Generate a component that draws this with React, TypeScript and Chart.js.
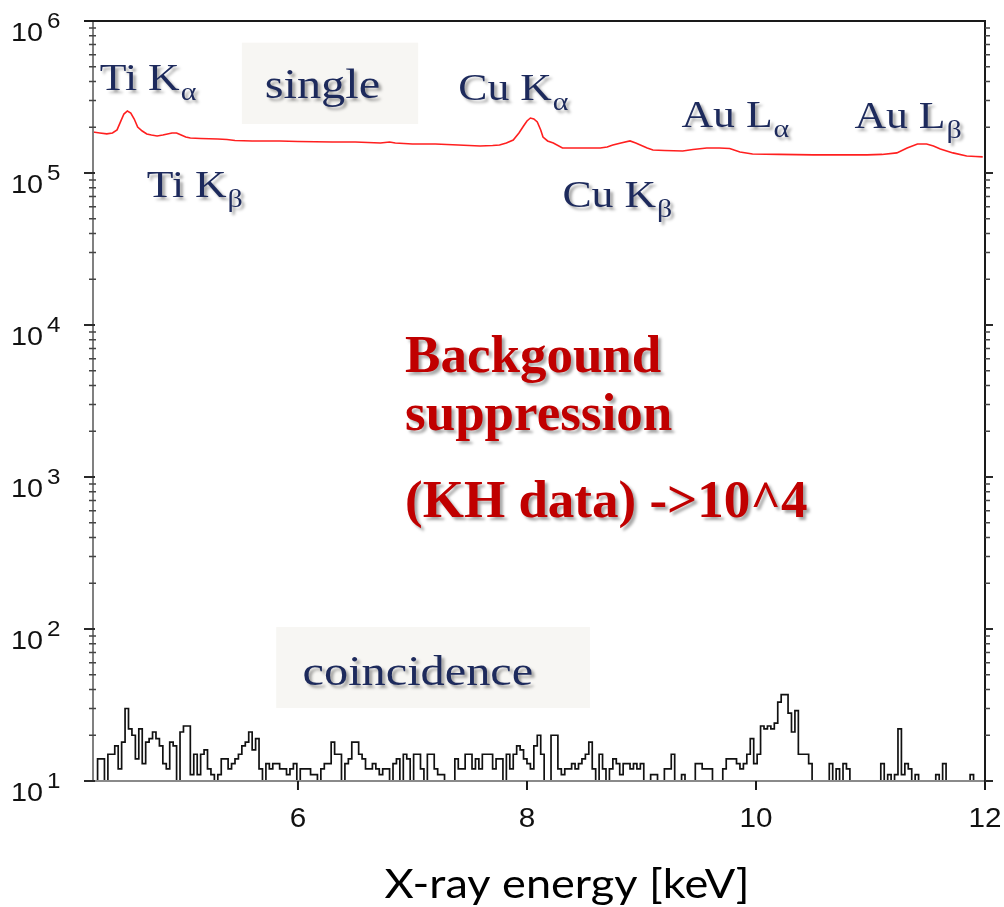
import React, { useEffect, useRef } from "react";
import { Chart, registerables } from "chart.js";

Chart.register(...registerables);

// ---------------- data ----------------
// "single" spectrum (red): energy [keV] and counts
const singleEnergy = [
  4.21, 4.27, 4.33, 4.38, 4.42, 4.45, 4.48, 4.51, 4.54, 4.57, 4.6, 4.64, 4.68, 4.72, 4.77, 4.82, 4.86, 4.9, 4.94,
  4.98, 5.02, 5.06, 5.15, 5.3, 5.38, 5.45, 5.6, 5.84, 6.0, 6.3, 6.5, 6.72, 6.8, 6.85, 7.0, 7.2, 7.4, 7.59, 7.7,
  7.76, 7.82, 7.88, 7.93, 7.97, 8.0, 8.03, 8.06, 8.09, 8.12, 8.14, 8.18, 8.23, 8.31, 8.45, 8.64, 8.7, 8.75, 8.82,
  8.9, 8.95, 8.99, 9.05, 9.1, 9.2, 9.36, 9.45, 9.57, 9.68, 9.77, 9.86, 9.97, 10.2, 10.5, 10.8, 10.97, 11.1, 11.23,
  11.32, 11.41, 11.49, 11.55, 11.61, 11.72, 11.84, 11.92, 11.98,
];
const singleCounts = [
  186000, 183500, 181000, 183500, 192000, 216800, 244300, 255900, 248000, 226600, 200700, 188900, 180700, 177800,
  175000, 177800, 180700, 183500, 183500, 177800, 172500, 169900, 168600, 167400, 166000, 163500, 162500, 162500,
  161300, 160000, 160000, 157500, 160000, 157500, 155200, 155200, 152900, 150600, 151700, 152900, 157500, 164900,
  183500, 203600, 219800, 230000, 226600, 216800, 191900, 172500, 162500, 157500, 146000, 146000, 146000, 148300,
  152900, 157500, 162500, 157500, 152900, 146000, 141700, 140700, 139700, 142800, 146000, 146000, 145000, 137600,
  133500, 132500, 131500, 131500, 131500, 132500, 135600, 146000, 155200, 155200, 150600, 143900, 135600, 129500,
  128500, 127600,
];

// "coincidence" histogram (black): first bin edge, bin width [keV], counts per bin
const coincidenceFirstEdge = 4.19;
const coincidenceBinWidth = 0.03;
const coincidenceCounts = [
  0, 0, 14, 14, 0, 15, 15, 17, 12, 18, 30, 22, 20, 14, 22, 13, 18, 19, 21, 19, 17, 13, 12, 18, 17, 0, 21, 23, 23, 11,
  15, 11, 15, 16, 12, 11, 0, 11, 14, 14, 12, 13, 14, 15, 17, 18, 21, 16, 19, 12, 0,
  13, 12,
  13, 13, 12, 12, 11, 12, 13, 0, 12, 12, 12, 11, 11, 0, 12, 13, 13, 18, 15, 15, 0, 13, 14, 18, 18, 15, 14, 12, 12, 13,
  12, 11, 12, 12, 0, 13, 14, 0, 15, 14, 0, 15, 15, 12, 0, 15, 15, 12, 11, 11,
  0, 0, 0, 14, 12, 12, 15, 15, 12, 14, 12, 15, 15, 15, 12, 14, 14, 0, 15, 12, 15, 17, 16, 14, 13, 12, 17, 20, 15, 0,
  0, 20, 20, 12, 11, 12, 12, 13, 12, 13, 14, 15, 18, 12, 0, 15, 12, 0, 12, 14,
  13, 11, 13, 13, 12, 13, 12, 13, 0, 0, 11, 11, 0, 0, 12, 12, 15, 0, 0, 11, 0, 0, 0, 13, 13, 12, 12, 12, 0, 0, 0, 12,
  14, 14, 14, 13, 12, 13, 15, 19, 13, 15, 23, 22, 23, 22, 24, 33, 37, 37, 28, 21, 29, 15,
  15, 15, 13, 0, 0, 0, 0, 0, 13, 0, 12, 0, 13, 12, 0, 0, 0, 0, 0, 0, 0, 0, 0, 13, 0, 11, 0, 11, 22, 11, 13, 12, 0, 11,
  0, 0, 0, 0, 0, 11, 0, 13, 0, 0, 0, 0, 0, 0, 0, 11, 0, 0, 0,
];

const xTickValues = [6, 8, 10, 12];
const yDecadeExponents = [1, 2, 3, 4, 5, 6];
const xAxisTitle = "X-ray energy [keV]";

// text labels placed in data coordinates (keV, counts)
const peakLabels = [
  { main: "Ti K", sub: "α", e: 4.27, c: 3.5e5 },
  { main: "Ti K", sub: "β", e: 4.68, c: 7.0e4 },
  { main: "Cu K", sub: "α", e: 7.4, c: 3.0e5 },
  { main: "Cu K", sub: "β", e: 8.31, c: 6.0e4 },
  { main: "Au L", sub: "α", e: 9.35, c: 2.0e5 },
  { main: "Au L", sub: "β", e: 10.86, c: 1.98e5 },
];
const boxedLabels = [
  { text: "single", e: 5.71, c: 3.1e5, e0: 5.51, e1: 7.05, c0: 7.2e5, c1: 2.1e5 },
  { text: "coincidence", e: 6.04, c: 42.9, e0: 5.81, e1: 8.55, c0: 103, c1: 30.2 },
];
const noteLines = [
  { text: "Backgound", e: 6.935, c: 4910 },
  { text: "suppression", e: 6.935, c: 2040 },
  { text: "(KH data) ->10^4", e: 6.935, c: 546 },
];

// ---------------- drawing helpers ----------------
function stretchedText(
  ctx: CanvasRenderingContext2D,
  text: string,
  x: number,
  y: number,
  font: string,
  color: string,
  sx: number,
  align: "left" | "center" | "right" = "left"
) {
  ctx.save();
  ctx.font = font;
  ctx.fillStyle = color;
  ctx.textBaseline = "alphabetic";
  const w = ctx.measureText(text).width * sx;
  let x0 = x;
  if (align === "center") x0 = x - w / 2;
  if (align === "right") x0 = x - w;
  ctx.translate(x0, y);
  ctx.scale(sx, 1);
  ctx.textAlign = "left";
  ctx.fillText(text, 0, 0);
  ctx.restore();
  return w;
}

const NAVY = "#1d2a5c";
const SERIF = '"Liberation Serif", "Times New Roman", serif';
const SANS = '"Liberation Sans", Arial, sans-serif';

const decorPlugin = {
  id: "decor",
  beforeDatasetsDraw(chart: any) {
    const ctx: CanvasRenderingContext2D = chart.ctx;
    const xs = chart.scales.x;
    const ys = chart.scales.y;
    ctx.save();
    ctx.fillStyle = "#f7f6f3";
    for (const b of boxedLabels) {
      const x0 = xs.getPixelForValue(b.e0);
      const x1 = xs.getPixelForValue(b.e1);
      const y0 = ys.getPixelForValue(b.c0);
      const y1 = ys.getPixelForValue(b.c1);
      ctx.fillRect(x0, y0, x1 - x0, y1 - y0);
    }
    ctx.restore();
  },
  afterDatasetsDraw(chart: any) {
    const ctx: CanvasRenderingContext2D = chart.ctx;
    const xs = chart.scales.x;
    const ys = chart.scales.y;
    const ca = chart.chartArea;
    ctx.save();
    ctx.lineCap = "butt";
    // frame
    ctx.lineWidth = 2;
    ctx.strokeStyle = "#808080";
    ctx.beginPath();
    ctx.moveTo(ca.left, ca.top);
    ctx.lineTo(ca.left, ca.bottom + 1);
    ctx.stroke();
    ctx.strokeStyle = "#8a8a8a";
    ctx.beginPath();
    ctx.moveTo(ca.left, ca.bottom);
    ctx.lineTo(ca.right, ca.bottom);
    ctx.stroke();
    ctx.strokeStyle = "#1a1a1a";
    ctx.beginPath();
    ctx.moveTo(ca.left - 9, ca.top);
    ctx.lineTo(ca.right + 1, ca.top);
    ctx.moveTo(ca.right, ca.top);
    ctx.lineTo(ca.right, ca.bottom + 9);
    ctx.stroke();
    // x ticks
    for (const t of xTickValues) {
      const x = xs.getPixelForValue(t);
      ctx.beginPath();
      ctx.moveTo(x, ca.bottom);
      ctx.lineTo(x, ca.bottom + 9);
      ctx.stroke();
    }
    // y ticks (left and right)
    for (const k of yDecadeExponents) {
      for (let m = 1; m <= 9; m++) {
        if (k === 6) continue;
        const v = m * Math.pow(10, k);
        const y = ys.getPixelForValue(v);
        if (m === 1) {
          ctx.lineWidth = 2;
          ctx.strokeStyle = "#2a2a2a";
          ctx.beginPath();
          ctx.moveTo(ca.left - 9, y);
          ctx.lineTo(ca.left + 2, y);
          ctx.moveTo(ca.right, y);
          ctx.lineTo(ca.right + 8, y);
          ctx.stroke();
        } else {
          ctx.lineWidth = 1.5;
          ctx.strokeStyle = "#444";
          ctx.beginPath();
          ctx.moveTo(ca.left - 4, y);
          ctx.lineTo(ca.left + 3, y);
          ctx.moveTo(ca.right, y);
          ctx.lineTo(ca.right + 5, y);
          ctx.stroke();
        }
      }
    }
    // y tick labels: 10^k
    for (const k of yDecadeExponents) {
      const y = ys.getPixelForValue(Math.pow(10, k));
      stretchedText(ctx, "10", 43, y + 20, `25px ${SANS}`, "#111", 1.15, "right");
      stretchedText(ctx, String(k), 47, y + 7, `22px ${SANS}`, "#111", 1.1, "left");
    }
    // x tick labels
    for (const t of xTickValues) {
      const x = xs.getPixelForValue(t);
      stretchedText(ctx, String(t), x, ca.bottom + 46, `27px ${SANS}`, "#111", 1.1, "center");
    }
    // x axis title
    stretchedText(ctx, xAxisTitle, 567, 898, `41px Lato, "Open Sans", sans-serif`, "#000", 1.1, "center");

    // labels with shadow
    ctx.save();
    ctx.shadowColor = "rgba(0,0,0,0.35)";
    ctx.shadowOffsetX = 3;
    ctx.shadowOffsetY = 3;
    ctx.shadowBlur = 3;
    for (const p of peakLabels) {
      const x = xs.getPixelForValue(p.e);
      const y = ys.getPixelForValue(p.c);
      const w = stretchedText(ctx, p.main, x, y, `38px ${SERIF}`, NAVY, 1.15);
      stretchedText(ctx, p.sub, x + w + 1, y + 10, `26px ${SERIF}`, NAVY, 1.15);
    }
    for (const b of boxedLabels) {
      const x = xs.getPixelForValue(b.e);
      const y = ys.getPixelForValue(b.c);
      stretchedText(ctx, b.text, x, y, `42px ${SERIF}`, NAVY, 1.15);
    }
    for (const n of noteLines) {
      const x = xs.getPixelForValue(n.e);
      const y = ys.getPixelForValue(n.c);
      stretchedText(ctx, n.text, x, y, `bold 53px ${SERIF}`, "#c00000", 1.0);
    }
    ctx.restore();
    ctx.restore();
  },
};

export default function App() {
  const canvasRef = useRef<HTMLCanvasElement | null>(null);

  useEffect(() => {
    document.body.style.margin = "0";
    const canvas = canvasRef.current;
    if (!canvas) return;

    const singleData = singleEnergy.map((e, i) => ({ x: e, y: singleCounts[i] }));
    const coincidenceData = coincidenceCounts.map((c, i) => ({
      x: coincidenceFirstEdge + coincidenceBinWidth * i,
      y: c > 0 ? c : 1,
    }));
    coincidenceData.push({ x: coincidenceFirstEdge + coincidenceBinWidth * coincidenceCounts.length, y: 1 });

    const chart = new Chart(canvas, {
      type: "line",
      data: {
        datasets: [
          {
            label: "single",
            data: singleData,
            borderColor: "#ff1f1f",
            borderWidth: 1.6,
            pointRadius: 0,
            tension: 0,
            fill: false,
          },
          {
            label: "coincidence",
            data: coincidenceData,
            borderColor: "#111111",
            borderWidth: 1.7,
            pointRadius: 0,
            stepped: "before",
            fill: false,
          },
        ],
      },
      options: {
        animation: false,
        responsive: false,
        devicePixelRatio: 1,
        layout: { padding: { top: 21, right: 19, left: 0, bottom: 0 } },
        plugins: { legend: { display: false }, tooltip: { enabled: false } },
        scales: {
          x: {
            type: "linear",
            min: 4.21,
            max: 12,
            grid: { display: false },
            border: { display: false },
            ticks: { display: false },
            afterFit: (s: any) => {
              s.height = 126;
            },
          },
          y: {
            type: "logarithmic",
            min: 10,
            max: 1e6,
            grid: { display: false },
            border: { display: false },
            ticks: { display: false },
            afterFit: (s: any) => {
              s.width = 93;
            },
          },
        },
      },
      plugins: [decorPlugin],
    } as any);

    return () => chart.destroy();
  }, []);

  return (
    <div style={{ width: 1004, height: 907, background: "#fff" }}>
      <canvas ref={canvasRef} width={1004} height={907} style={{ display: "block" }} />
    </div>
  );
}
